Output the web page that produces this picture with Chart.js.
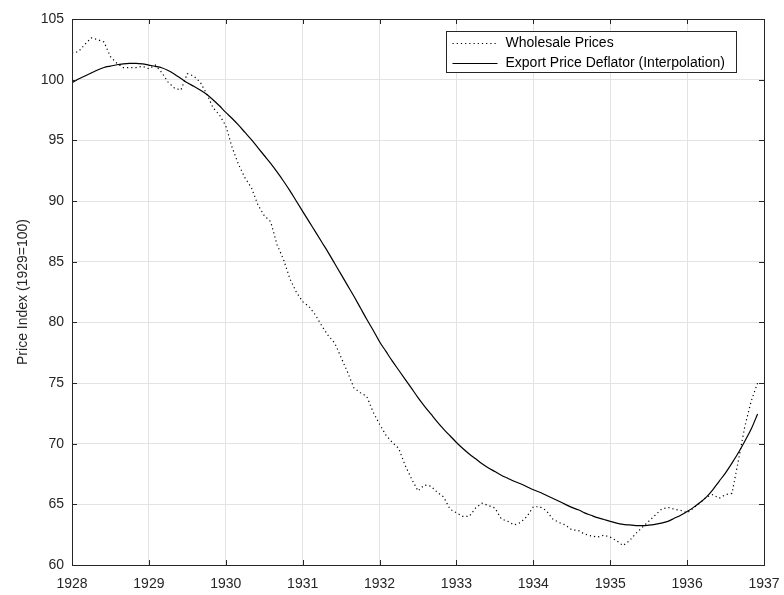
<!DOCTYPE html>
<html>
<head>
<meta charset="utf-8">
<script src="https://cdn.jsdelivr.net/npm/chart.js@4.4.1/dist/chart.umd.min.js"></script>
<style>
  html, body { margin: 0; padding: 0; background: #fff; }
  #wrap { width: 784px; height: 595px; }
</style>
</head>
<body>
<div id="wrap"><canvas id="priceChart" width="784" height="595"></canvas></div>
<script>
// ==========================================
// DATA (monthly, Jan 1928 - Dec 1936)
// ==========================================
const START_YEAR = 1928;
const yearTicks = [1928, 1929, 1930, 1931, 1932, 1933, 1934, 1935, 1936, 1937];
const indexTicks = [60, 65, 70, 75, 80, 85, 90, 95, 100, 105];
const seriesLabels = ['Wholesale Prices', 'Export Price Deflator (Interpolation)'];

const wholesale = [
  102.2, 102.3, 102.9, 103.45, 103.3, 103.1, 101.9, 101.35, 101.0, 101.0, 101.0, 101.1,
  100.9, 101.2, 100.6, 99.8, 99.3, 99.15, 100.5, 100.3, 99.8, 98.85, 97.7, 97.1,
  96.2, 94.4, 93.0, 91.9, 91.1, 89.7, 88.8, 88.3, 86.4, 85.2, 83.6, 82.5,
  81.7, 81.3, 80.6, 79.7, 78.9, 78.3, 77.1, 75.9, 74.6, 74.2, 73.9, 72.6,
  71.6, 70.7, 70.1, 69.6, 68.2, 67.1, 66.1, 66.6, 66.5, 66.0, 65.6, 64.6,
  64.3, 64.0, 64.0, 64.7, 65.1, 64.9, 64.7, 63.8, 63.6, 63.3, 63.5, 64.0,
  64.8, 64.8, 64.5, 63.8, 63.5, 63.3, 62.9, 62.85, 62.55, 62.4, 62.3, 62.45,
  62.3, 62.0, 61.6, 62.0, 62.6, 63.1, 63.6, 64.1, 64.6, 64.75, 64.6, 64.5,
  64.3, 64.7, 65.1, 65.6, 65.8, 65.5, 65.8, 65.9, 68.6, 71.4, 73.5, 75.0
];

const deflator = [
  99.75, 100.05, 100.3, 100.55, 100.8, 101.0, 101.12, 101.23, 101.3, 101.34, 101.35, 101.3,
  101.2, 101.1, 100.98, 100.75, 100.45, 100.1, 99.75, 99.45, 99.15, 98.8, 98.35, 97.85,
  97.3, 96.8, 96.25, 95.65, 95.05, 94.4, 93.75, 93.1, 92.4, 91.65, 90.85, 90.0,
  89.15, 88.3, 87.45, 86.6, 85.75, 84.85, 83.95, 83.05, 82.15, 81.2, 80.25, 79.35,
  78.4, 77.6, 76.8, 76.05, 75.3, 74.55, 73.8, 73.1, 72.45, 71.8, 71.2, 70.65,
  70.1, 69.6, 69.15, 68.75, 68.35, 68.0, 67.7, 67.4, 67.15, 66.9, 66.7, 66.45,
  66.2, 66.0, 65.75, 65.5, 65.25, 65.0, 64.75, 64.55, 64.3, 64.1, 63.9, 63.75,
  63.6, 63.45, 63.35, 63.3, 63.25, 63.24, 63.28, 63.35, 63.45, 63.6, 63.85, 64.1,
  64.4, 64.75, 65.15, 65.6, 66.2, 66.9, 67.6, 68.4, 69.25, 70.2, 71.2, 72.45
];

// ==========================================
// STYLE
// ==========================================
const FONT = "'Liberation Sans', Arial, Helvetica, sans-serif";
const AXIS_COLOR = '#262626';
const GRID_COLOR = '#e3e3e3';

const toPoints = arr => arr.map((v, i) => ({ x: START_YEAR + i / 12, y: v }));

// MATLAB-like box with inward tick marks on all four sides
const frameTicks = {
  id: 'frameTicks',
  afterDatasetsDraw(chart) {
    const { ctx, chartArea: a, scales } = chart;
    const len = 5;
    ctx.save();
    ctx.strokeStyle = AXIS_COLOR;
    ctx.lineWidth = 1;
    ctx.beginPath();
    yearTicks.forEach(v => {
      const x = Math.round(scales.x.getPixelForValue(v)) + 0.5;
      ctx.moveTo(x, a.bottom); ctx.lineTo(x, a.bottom - len);
      ctx.moveTo(x, a.top); ctx.lineTo(x, a.top + len);
    });
    indexTicks.forEach(v => {
      const y = Math.round(scales.y.getPixelForValue(v)) + 0.5;
      ctx.moveTo(a.left, y); ctx.lineTo(a.left + len, y);
      ctx.moveTo(a.right, y); ctx.lineTo(a.right - len, y);
    });
    ctx.stroke();
    ctx.strokeRect(Math.round(a.left) + 0.5, Math.round(a.top) + 0.5,
                   Math.round(a.right - a.left), Math.round(a.bottom - a.top));
    ctx.restore();
  }
};

// Legend box in the upper right corner of the axes
const boxLegend = {
  id: 'boxLegend',
  afterDraw(chart) {
    const { ctx, chartArea: a } = chart;
    const w = 290, h = 41;
    const x0 = Math.round(a.right - 28 - w) + 0.5;
    const y0 = Math.round(a.top + 12) + 0.5;
    ctx.save();
    ctx.fillStyle = '#fff';
    ctx.fillRect(x0, y0, w, h);
    ctx.strokeStyle = AXIS_COLOR;
    ctx.lineWidth = 1;
    ctx.strokeRect(x0, y0, w, h);
    ctx.font = `14px ${FONT}`;
    ctx.textBaseline = 'middle';
    chart.data.datasets.forEach((ds, i) => {
      const y = Math.round(y0 + 11.5 + i * 19.5) + 0.5;
      ctx.strokeStyle = '#000';
      ctx.lineWidth = ds.borderWidth;
      ctx.setLineDash(ds.borderDash || []);
      ctx.beginPath();
      ctx.moveTo(x0 + 6, y);
      ctx.lineTo(x0 + 51, y);
      ctx.stroke();
      ctx.setLineDash([]);
      ctx.fillStyle = '#000';
      ctx.fillText(ds.label, x0 + 59, y);
    });
    ctx.restore();
  }
};

new Chart(document.getElementById('priceChart'), {
  type: 'line',
  data: {
    datasets: [
      {
        label: seriesLabels[0],
        data: toPoints(wholesale),
        borderColor: '#000',
        borderWidth: 1.2,
        borderDash: [1.2, 3],
        pointRadius: 0,
        tension: 0,
        fill: false
      },
      {
        label: seriesLabels[1],
        data: toPoints(deflator),
        borderColor: '#000',
        borderWidth: 1.2,
        pointRadius: 0,
        cubicInterpolationMode: 'monotone',
        fill: false
      }
    ]
  },
  options: {
    responsive: false,
    animation: false,
    events: [],
    layout: { padding: { top: 19, right: 20, left: 0, bottom: 0 } },
    plugins: {
      legend: { display: false },
      tooltip: { enabled: false }
    },
    scales: {
      x: {
        type: 'linear',
        min: 1928,
        max: 1937,
        afterBuildTicks: s => { s.ticks = yearTicks.map(v => ({ value: v })); },
        afterFit: s => { s.height = 30; s.paddingLeft = 0; s.paddingRight = 0; },
        grid: { color: GRID_COLOR, drawTicks: false },
        border: { display: false },
        ticks: {
          padding: 11,
          color: AXIS_COLOR,
          font: { family: FONT, size: 14 },
          maxRotation: 0,
          callback: v => String(v)
        }
      },
      y: {
        min: 60,
        max: 105,
        afterBuildTicks: s => { s.ticks = indexTicks.map(v => ({ value: v })); },
        afterFit: s => { s.width = 72; s.paddingTop = 0; s.paddingBottom = 0; },
        grid: { color: GRID_COLOR, drawTicks: false },
        border: { display: false },
        ticks: {
          padding: 8,
          color: AXIS_COLOR,
          font: { family: FONT, size: 14 },
          callback: v => String(v)
        },
        title: {
          display: true,
          text: 'Price Index (1929=100)',
          color: AXIS_COLOR,
          font: { family: FONT, size: 14 },
          padding: { top: 15, bottom: 0 }
        }
      }
    }
  },
  plugins: [frameTicks, boxLegend]
});
</script>
</body>
</html>
